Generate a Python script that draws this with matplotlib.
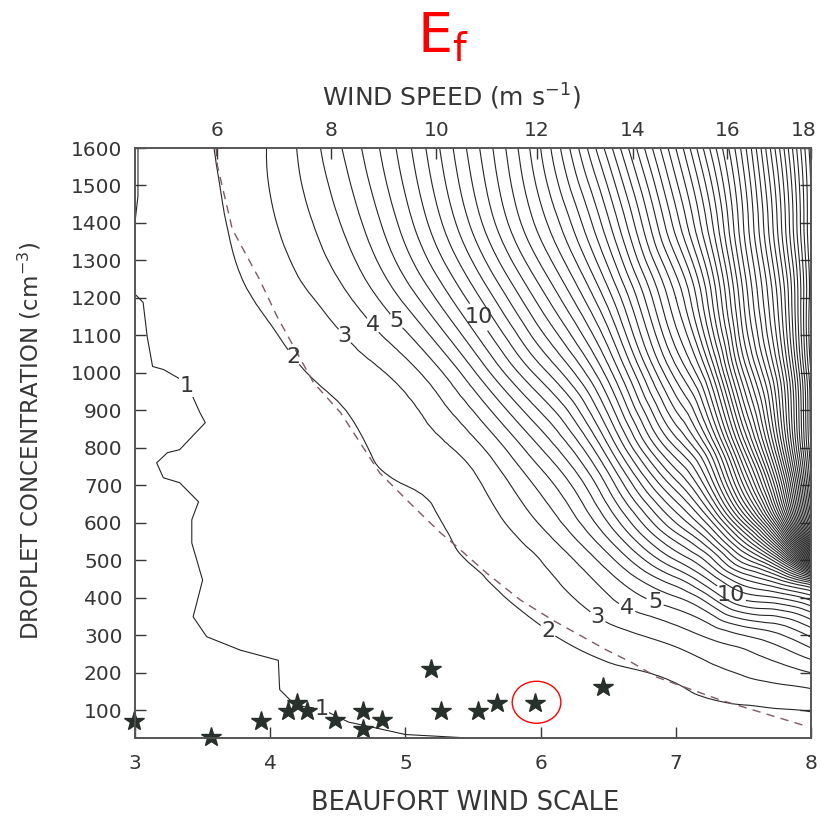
import numpy as np
import matplotlib.pyplot as plt
from matplotlib import tri
from matplotlib.patches import Ellipse
from matplotlib.transforms import ScaledTranslation

plt.rcParams['font.family'] = ['DejaVu Sans']
plt.rcParams['mathtext.fontset'] = 'dejavusans'

# grid of E_f values (rows = concentration)
beaufort = [3.0, 3.5, 4.0, 4.5, 5.0, 5.5, 6.0, 6.5, 7.0, 7.25, 7.5, 7.75, 8.0]
conc = [25, 100, 200, 300, 400, 450, 500, 550, 600, 700, 800, 1000, 1200, 1400, 1600]
ef = [
    [0.5, 0.6, 0.7, 0.8, 0.9, 1.1, 1.3, 1.3, 1.4, 1.45, 1.5, 1.55, 1.6],
    [0.6, 0.8, 0.95, 1.05, 1.25, 1.35, 1.45, 1.5, 1.65, 1.75, 1.85, 1.95, 2.05],
    [0.65, 0.85, 1.05, 1.3, 1.4, 1.5, 1.65, 1.85, 2.2, 2.7, 3.1, 3.5, 4.0],
    [0.7, 0.95, 1.25, 1.4, 1.5, 1.65, 1.9, 2.6, 3.5, 4.2, 5.0, 5.8, 7.2],
    [0.75, 1.0, 1.3, 1.45, 1.6, 1.8, 2.4, 3.9, 5.9, 7.8, 10.3, 11.0, 12.5],
    [0.78, 1.02, 1.3, 1.48, 1.65, 1.9, 2.7, 4.6, 7.8, 10.2, 13.0, 15.0, 19.0],
    [0.8, 1.05, 1.3, 1.5, 1.7, 2.05, 3.0, 5.6, 10.0, 12.5, 16.5, 21.0, 34.0],
    [0.82, 1.07, 1.32, 1.52, 1.75, 2.2, 3.5, 6.8, 12.0, 15.0, 20.0, 28.0, 48.0],
    [0.85, 1.1, 1.35, 1.55, 1.8, 2.35, 4.1, 8.0, 14.0, 17.5, 24.0, 34.0, 54.0],
    [0.88, 1.1, 1.4, 1.65, 2.0, 2.75, 5.3, 10.2, 17.5, 22.0, 30.0, 40.0, 57.5],
    [0.9, 1.1, 1.45, 1.75, 2.35, 3.6, 7.0, 12.8, 21.0, 25.5, 34.0, 44.0, 59.0],
    [0.95, 1.25, 1.65, 2.3, 3.5, 6.8, 11.5, 17.5, 26.5, 31.5, 40.0, 47.5, 60.0],
    [1.05, 1.45, 2.25, 3.6, 6.3, 10.5, 15.5, 21.5, 30.0, 35.5, 43.0, 50.0, 60.6],
    [1.05, 1.65, 2.85, 4.9, 8.5, 13.3, 18.5, 24.8, 33.5, 38.5, 45.0, 52.0, 61.1],
    [1.1, 1.85, 3.1, 5.8, 9.6, 14.5, 20.0, 27.5, 36.0, 41.0, 46.5, 53.5, 61.5],
]

# the wiggly E_f = 1 contour, traced by hand
c1_top_b = [3.022, 3.022, 3.0]
c1_top_n = [1600, 1472, 1402]
c1_b = [3.0, 3.06, 3.09, 3.13, 3.21, 3.38, 3.48, 3.52, 3.33, 3.24, 3.16, 3.21, 3.33,
        3.47, 3.42, 3.42, 3.5, 3.43, 3.53, 3.78, 4.06, 4.07, 4.17, 4.2, 4.38, 4.58,
        4.75, 5.0, 5.4]
c1_n = [1210, 1188, 1097, 1017, 1009, 974, 894, 867, 795, 787, 760, 720, 707,
        656, 608, 546, 447, 349, 296, 260, 233, 155, 119, 112, 103, 68,
        55, 35, 27]

# dashed reference curve
dash_b = [3.6, 3.61, 3.72, 3.92, 4.05, 4.32, 4.52, 4.81, 5.06, 5.26, 5.35, 5.6, 5.85,
          6.09, 6.49, 6.68, 6.86, 7.33, 7.94]
dash_n = [1600, 1552, 1383, 1250, 1151, 974, 894, 733, 643, 573, 546, 466, 394,
          340, 260, 226, 188, 127, 60]

# observations
star_b = [2.99, 3.56, 3.93, 4.13, 4.2, 4.27, 4.48, 4.69, 4.69, 4.83, 5.19, 5.26, 5.54,
          5.68, 5.96, 6.46]
star_n = [72, 28, 72, 98, 118, 98, 75, 98, 50, 75, 210, 98, 98, 120, 119, 162]
circled = (5.97, 121)

wind_pos = [3.607, 4.45, 5.23, 5.97, 6.68, 7.38, 8.0]
wind_lab = ['6', '8', '10', '12', '14', '16', '18']
conc_ticks = list(range(100, 1700, 100))

label_levels = [2, 3, 4, 5, 10]
label_pos = [(4.2, 1049), (6.05, 309), (4.54, 1095), (6.42, 347), (4.75, 1124),
             (6.64, 374), (4.93, 1137), (6.84, 382), (5.6, 1163), (7.4, 403)]
one_pos = [(3.38, 964), (4.38, 103)]

ink = '#262626'
txt = '#363636'

fig = plt.figure(figsize=(8.21, 8.19), dpi=100)
ax = fig.add_axes([135/821, 1-737.5/819, 676/821, 589.5/819])

# smooth the coarse grid with matplotlib's own triangle refiner
bb, nn = np.meshgrid(beaufort, conc)
t0 = tri.Triangulation(bb.ravel(), nn.ravel() / 360.0)
tf, zf = tri.UniformTriRefiner(t0).refine_field(np.array(ef).ravel(), subdiv=3)
tplot = tri.Triangulation(tf.x, tf.y * 360.0, tf.triangles)

other_levels = [v for v in range(2, 62) if v not in label_levels]
ax.tricontour(tplot, zf, levels=other_levels, colors=ink, linewidths=0.8)
cs = ax.tricontour(tplot, zf, levels=label_levels, colors=ink, linewidths=0.8)
lt = ax.clabel(cs, manual=label_pos, inline=True, fmt='%d',
               fontsize=16, colors=txt, inline_spacing=2)
for t in lt:
    t.set_rotation(0)

ax.plot(c1_top_b, c1_top_n, color=ink, lw=0.8)
ax.plot(c1_b, c1_n, color=ink, lw=0.8)
for x, y in one_pos:
    ax.text(x, y, '1', fontsize=16, color=txt, ha='center', va='center',
            bbox=dict(fc='white', ec='none', pad=0.5))

ax.plot(dash_b, dash_n, ls=(0, (6, 4.5)), color='#7d5a6a', lw=1.0)
ax.plot(star_b, star_n, '*', ms=15, color='#28302b', clip_on=False, zorder=5)
ax.add_patch(Ellipse(circled, width=0.36, height=112, fill=False, ec='red', lw=1.0))

ax.set_xlim(3, 8)
ax.set_ylim(27, 1600)
ax.set_xticks([3, 4, 5, 6, 7, 8])
ax.set_yticks(conc_ticks)
ax.tick_params(axis='x', direction='in', length=8, width=1, pad=12, labelsize=14.5,
               colors=txt)
ax.tick_params(axis='y', direction='in', length=8, width=1, pad=9, labelsize=14.5,
               colors=txt, right=True)

ax2 = ax.twiny()
ax2.set_xlim(3, 8)
ax2.set_xticks(wind_pos)
ax2.set_xticklabels(wind_lab)
ax2.tick_params(axis='x', direction='in', length=8, width=1, pad=6, labelsize=14.5,
                colors=txt)
last = ax2.get_xticklabels()[-1]
last.set_transform(last.get_transform() + ScaledTranslation(-5/72, 0, fig.dpi_scale_trans))

for a in (ax, ax2):
    for s in a.spines.values():
        s.set_color('#555555')
        s.set_linewidth(1.2)

fig.text(451/821, 1-97/819, 'WIND SPEED (m s$^{-1}$)', ha='center', va='center',
         fontsize=18, color=txt)
fig.text(465/821, 1-803/819, 'BEAUFORT WIND SCALE', ha='center', va='center',
         fontsize=18.5, color=txt)
fig.text(30/821, 1-441/819, 'DROPLET CONCENTRATION (cm$^{-3}$)', ha='center',
         va='center', rotation=90, fontsize=16.5, color=txt)
fig.text(443/821, 1-37/819, r'E$_{\mathregular{f}}$', ha='center', va='center',
         fontsize=40, color='red')

fig.savefig('out.png', dpi=100, facecolor='white')
